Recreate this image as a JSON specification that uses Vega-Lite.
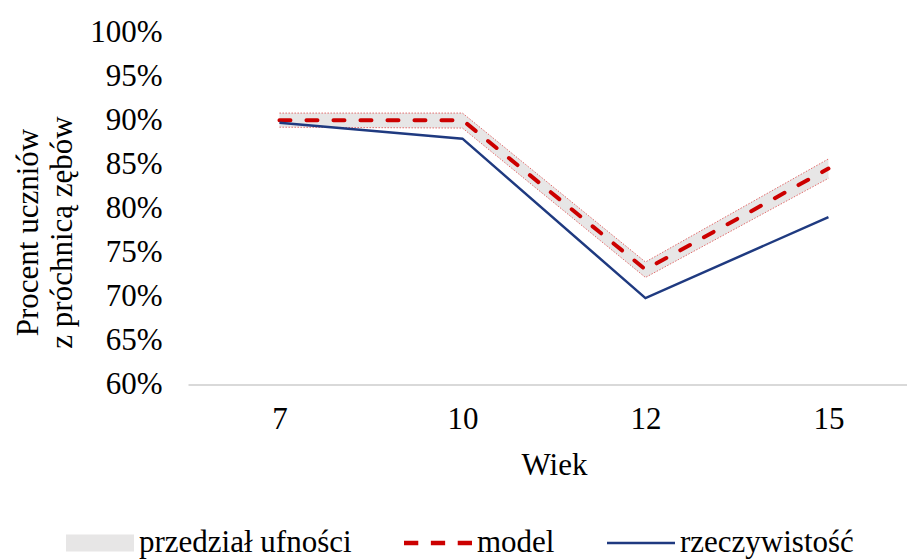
{
  "$schema": "https://vega.github.io/schema/vega-lite/v6.json",
  "width": 719,
  "height": 352.5,
  "autosize": {"type": "none"},
  "padding": {"left": 188, "top": 32, "right": 0, "bottom": 174.5},
  "background": "white",
  "config": {
    "view": {"stroke": null},
    "font": "Liberation Serif",
    "axis": {"labelFont": "Liberation Serif", "titleFont": "Liberation Serif", "labelColor": "#000000", "titleColor": "#000000", "titleFontWeight": "normal"},
    "legend": {
      "orient": "none",
      "legendX": -122,
      "legendY": 477,
      "direction": "horizontal",
      "columns": 3,
      "title": null,
      "symbolSize": 4624,
      "symbolStrokeWidth": 0,
      "labelFont": "Liberation Serif",
      "labelFontSize": 31,
      "labelColor": "#000000",
      "labelOffset": 5,
      "labelLimit": 0,
      "columnPadding": 52,
      "padding": 0
    }
  },
  "data": {
    "values": [
      {"wiek": 7, "seria": "przedział ufności", "lo": 0.892, "hi": 0.908},
      {"wiek": 10, "seria": "przedział ufności", "lo": 0.891, "hi": 0.908},
      {"wiek": 12, "seria": "przedział ufności", "lo": 0.7215, "hi": 0.739},
      {"wiek": 15, "seria": "przedział ufności", "lo": 0.834, "hi": 0.856},
      {"wiek": 7, "seria": "model", "value": 0.900},
      {"wiek": 10, "seria": "model", "value": 0.900},
      {"wiek": 12, "seria": "model", "value": 0.7305},
      {"wiek": 15, "seria": "model", "value": 0.845},
      {"wiek": 7, "seria": "rzeczywistość", "value": 0.897},
      {"wiek": 10, "seria": "rzeczywistość", "value": 0.879},
      {"wiek": 12, "seria": "rzeczywistość", "value": 0.698},
      {"wiek": 15, "seria": "rzeczywistość", "value": 0.790}
    ]
  },
  "encoding": {
    "x": {
      "field": "wiek",
      "type": "ordinal",
      "scale": {"type": "point", "padding": 0.4645, "align": 0.538},
      "axis": {
        "title": "Wiek",
        "titleFontSize": 31,
        "titleX": 366,
        "titleY": 90,
        "titleBaseline": "alphabetic",
        "titleAlign": "center",
        "labelFontSize": 31,
        "labelAngle": 0,
        "labelPadding": 20,
        "ticks": false,
        "grid": false,
        "domainColor": "#d9d9d9",
        "domainWidth": 2
      }
    }
  },
  "layer": [
    {
      "transform": [{"filter": "datum.seria === 'przedział ufności'"}],
      "mark": {"type": "area", "opacity": 1},
      "encoding": {
        "y": {
          "field": "lo",
          "type": "quantitative",
          "scale": {"domain": [0.6, 1], "nice": false, "zero": false},
          "title": ["Procent uczniów", "z próchnicą zębów"],
          "axis": {
            "format": ".0%",
            "values": [0.6, 0.65, 0.7, 0.75, 0.8, 0.85, 0.9, 0.95, 1.0],
            "labelFontSize": 31,
            "labelPadding": 26,
            "ticks": false,
            "domain": false,
            "grid": false,
            "titleFontSize": 31,
            "titleX": -151,
            "titleY": 200,
            "titleBaseline": "alphabetic",
            "titleAngle": -90,
            "titleAlign": "center",
            "titleLineHeight": 34
          }
        },
        "y2": {"field": "hi"},
        "color": {
          "field": "seria",
          "type": "nominal",
          "scale": {"domain": ["przedział ufności", "model", "rzeczywistość"], "range": ["#e7e6e6", "#cc0000", "#1f3a80"]},
          "legend": {
            "encode": {
              "symbols": {
                "update": {
                  "shape": {"signal": "datum.value === 'przedział ufności' ? 'M-1,-0.25H1V0.25H-1Z' : datum.value === 'model' ? 'M-1,-0.065H-0.58V0.065H-1Z M-0.21,-0.065H0.21V0.065H-0.21Z M0.58,-0.065H1V0.065H0.58Z' : 'M-1,-0.04H1V0.04H-1Z'"},
                  "fill": {"signal": "datum.value === 'przedział ufności' ? '#e7e6e6' : datum.value === 'model' ? '#cc0000' : '#1f3a80'"},
                  "stroke": {"value": "transparent"},
                  "strokeWidth": {"value": 0},
                  "opacity": {"value": 1},
                  "fillOpacity": {"value": 1}
                }
              }
            }
          }
        }
      }
    },
    {
      "transform": [{"filter": "datum.seria === 'przedział ufności'"}],
      "mark": {"type": "line", "stroke": "#e26b6b", "strokeWidth": 1, "strokeDash": [1.5, 1.5]},
      "encoding": {
        "y": {"field": "hi", "type": "quantitative", "title": ["Procent uczniów", "z próchnicą zębów"]}
      }
    },
    {
      "transform": [{"filter": "datum.seria === 'przedział ufności'"}],
      "mark": {"type": "line", "stroke": "#e26b6b", "strokeWidth": 1, "strokeDash": [1.5, 1.5]},
      "encoding": {
        "y": {"field": "lo", "type": "quantitative", "title": ["Procent uczniów", "z próchnicą zębów"]}
      }
    },
    {
      "transform": [{"filter": "datum.seria === 'model'"}],
      "mark": {"type": "line", "strokeWidth": 4, "strokeDash": [11, 16], "strokeCap": "round"},
      "encoding": {
        "y": {"field": "value", "type": "quantitative", "title": ["Procent uczniów", "z próchnicą zębów"]},
        "color": {
          "field": "seria",
          "type": "nominal",
          "legend": {
            "encode": {
              "symbols": {
                "update": {
                  "shape": {"signal": "datum.value === 'przedział ufności' ? 'M-1,-0.25H1V0.25H-1Z' : datum.value === 'model' ? 'M-1,-0.065H-0.58V0.065H-1Z M-0.21,-0.065H0.21V0.065H-0.21Z M0.58,-0.065H1V0.065H0.58Z' : 'M-1,-0.04H1V0.04H-1Z'"},
                  "fill": {"signal": "datum.value === 'przedział ufności' ? '#e7e6e6' : datum.value === 'model' ? '#cc0000' : '#1f3a80'"},
                  "stroke": {"value": "transparent"},
                  "strokeWidth": {"value": 0},
                  "opacity": {"value": 1},
                  "fillOpacity": {"value": 1}
                }
              }
            }
          }
        }
      }
    },
    {
      "transform": [{"filter": "datum.seria === 'rzeczywistość'"}],
      "mark": {"type": "line", "strokeWidth": 2.5},
      "encoding": {
        "y": {"field": "value", "type": "quantitative", "title": ["Procent uczniów", "z próchnicą zębów"]},
        "color": {
          "field": "seria",
          "type": "nominal",
          "legend": {
            "encode": {
              "symbols": {
                "update": {
                  "shape": {"signal": "datum.value === 'przedział ufności' ? 'M-1,-0.25H1V0.25H-1Z' : datum.value === 'model' ? 'M-1,-0.065H-0.58V0.065H-1Z M-0.21,-0.065H0.21V0.065H-0.21Z M0.58,-0.065H1V0.065H0.58Z' : 'M-1,-0.04H1V0.04H-1Z'"},
                  "fill": {"signal": "datum.value === 'przedział ufności' ? '#e7e6e6' : datum.value === 'model' ? '#cc0000' : '#1f3a80'"},
                  "stroke": {"value": "transparent"},
                  "strokeWidth": {"value": 0},
                  "opacity": {"value": 1},
                  "fillOpacity": {"value": 1}
                }
              }
            }
          }
        }
      }
    }
  ]
}
